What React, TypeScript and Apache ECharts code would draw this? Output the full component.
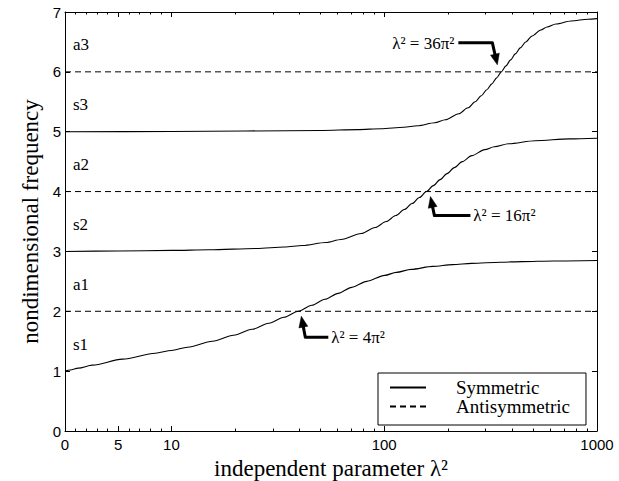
import React, { useEffect, useRef } from 'react';
import * as echarts from 'echarts';

// Symmetric mode curves: lambda^2 values and nondimensional frequency
const s1L2 = [0, 0.49, 1.25, 2.57, 5.4, 8.5, 10, 11.9, 15.6, 19.6, 23.95, 28.7, 33.8, 39.48, 45.7, 52.7, 60.8, 70.4, 82.8, 100.6, 114.0, 133.9, 169.2, 209.6, 257.7, 351.7, 445.4, 626, 1000];
const s1F = [1, 1.02, 1.05, 1.1, 1.2, 1.3, 1.345, 1.4, 1.5, 1.6, 1.7, 1.8, 1.9, 2.0, 2.1, 2.2, 2.3, 2.4, 2.5, 2.6, 2.65, 2.7, 2.75, 2.78, 2.8, 2.82, 2.83, 2.84, 2.848];

const s2L2 = [0, 5, 10, 15, 25.1, 34.0, 41.3, 53.2, 62.7, 78, 90.7, 102.3, 113.4, 124.2, 135.2, 146.3, 157.9, 170.1, 183.1, 197.4, 213.5, 232.8, 258, 297, 329.2, 384.2, 512.2, 743.4, 1000];
const s2F = [3, 3.008, 3.017, 3.027, 3.05, 3.075, 3.1, 3.15, 3.2, 3.3, 3.4, 3.5, 3.6, 3.7, 3.8, 3.9, 4.0, 4.1, 4.2, 4.3, 4.4, 4.5, 4.6, 4.7, 4.75, 4.8, 4.85, 4.88, 4.892];

const s3L2 = [0, 10, 50, 75, 96.7, 123.6, 143.6, 172.8, 193.8, 224.3, 247.6, 267.6, 285.9, 303.4, 320.6, 337.8, 355.3, 373.4, 392.5, 413, 435.8, 462.3, 495.7, 544.6, 582.3, 641.1, 755.6, 907.2, 1000];
const s3F = [5, 5.003, 5.021, 5.035, 5.05, 5.075, 5.1, 5.15, 5.2, 5.3, 5.4, 5.5, 5.6, 5.7, 5.8, 5.9, 6.0, 6.1, 6.2, 6.3, 6.4, 6.5, 6.6, 6.7, 6.75, 6.8, 6.85, 6.88, 6.89];

// Antisymmetric levels
const antiLevels = [2, 4, 6];
const antiRange = [0, 1000];

// Curve labels
const curveLabels = ['s1', 'a1', 's2', 'a2', 's3', 'a3'];
const curveLabelLevels = [1, 2, 3, 4, 5, 6];

// Crossover annotations
const crossL2 = [4 * Math.PI * Math.PI, 16 * Math.PI * Math.PI, 36 * Math.PI * Math.PI];
const crossLevels = [2, 4, 6];
const crossTexts = ['λ² = 4π²', 'λ² = 16π²', 'λ² = 36π²'];

// Axis ticks
const xMajorL2 = [0, 5, 10, 100, 1000];
const xMajorLabels = ['0', '5', '10', '100', '1000'];
const xMinorL2 = [1, 2, 3, 4, 6, 7, 8, 9, 20, 30, 40, 50, 60, 70, 80, 90, 200, 300, 400, 500, 600, 700, 800, 900];

// Hybrid axis scale: linear 0..10, logarithmic 10..1000
const toAxis = (l2: number) => (l2 <= 10 ? l2 : 10 + 20 * Math.log10(l2 / 10));

const serif = '"Liberation Serif", "Times New Roman", serif';
const sans = '"Liberation Sans", Arial, Helvetica, sans-serif';

export default function App() {
  const ref = useRef<HTMLDivElement>(null);
  useEffect(() => {
    if (!ref.current) return;
    const chart = echarts.init(ref.current, undefined, { renderer: 'svg' });
    const majorU = xMajorL2.map(toAxis);
    const minorU = xMinorL2.map(toAxis);
    const labelFor = (v: number) => {
      const i = majorU.findIndex((u) => Math.abs(u - v) < 1e-6);
      return i >= 0 ? xMajorLabels[i] : '';
    };
    const black = '#000';
    const baseX = {
      type: 'value',
      min: 0,
      max: 50,
      gridIndex: 0,
      splitLine: { show: false },
    };
    const symLine = { color: black, width: 1.1, type: 'solid' };
    const antiLine = { color: black, width: 1, type: [6, 4] };
    const symSets = [
      [s1L2, s1F],
      [s2L2, s2F],
      [s3L2, s3F],
    ];
    const series: any[] = [];
    symSets.forEach(([xs, ys]) => {
      series.push({
        name: 'Symmetric',
        type: 'line',
        xAxisIndex: 0,
        yAxisIndex: 0,
        symbol: 'none',
        smooth: 0.3,
        smoothMonotone: 'x',
        lineStyle: symLine,
        itemStyle: { color: black },
        data: xs.map((x, i) => [toAxis(x), ys[i]]),
      });
    });
    antiLevels.forEach((lv) => {
      series.push({
        name: 'Antisymmetric',
        type: 'line',
        xAxisIndex: 0,
        yAxisIndex: 0,
        symbol: 'none',
        lineStyle: antiLine,
        itemStyle: { color: black },
        data: antiRange.map((x) => [toAxis(x), lv]),
      });
    });

    // Text annotations as labels anchored at data coordinates
    const textOffsets = [
      { pos: [33, 26], align: 'left' },
      { pos: [47, 24], align: 'left' },
      { pos: [-47, -28], align: 'right' },
    ];
    const annotData: any[] = [];
    curveLabelLevels.forEach((lv, i) => {
      annotData.push({
        value: [0, lv],
        label: { formatter: curveLabels[i], position: [8, -27], align: 'left', verticalAlign: 'middle' },
      });
    });
    crossL2.forEach((l2, i) => {
      annotData.push({
        value: [toAxis(l2), crossLevels[i]],
        label: { formatter: crossTexts[i], position: textOffsets[i].pos, align: textOffsets[i].align, verticalAlign: 'middle' },
      });
    });
    series.push({
      name: 'annotations',
      type: 'scatter',
      xAxisIndex: 0,
      yAxisIndex: 0,
      symbolSize: 0.1,
      itemStyle: { color: black, opacity: 0 },
      silent: true,
      z: 10,
      label: {
        show: true,
        fontFamily: serif,
        fontSize: 17,
        color: black,
        opacity: 1,
      },
      labelLayout: { hideOverlap: false },
      data: annotData,
    });

    const option: any = {
      animation: false,
      grid: { left: 65, right: 22, top: 12, bottom: 50, outerBoundsMode: 'none' },
      legend: {
        data: ['Symmetric', 'Antisymmetric'],
        orient: 'vertical',
        left: 378,
        top: 373,
        itemWidth: 36,
        itemHeight: 14,
        itemGap: 0,
        padding: [5, 16, 9, 11],
        borderColor: black,
        borderWidth: 1,
        backgroundColor: '#fff',
        selectedMode: false,
        itemStyle: { opacity: 0 },
        textStyle: { fontFamily: serif, fontSize: 19, color: black, lineHeight: 18, padding: [0, 0, 0, 25] },
      },
      xAxis: [
        {
          ...baseX,
          position: 'bottom',
          axisLine: { show: true, onZero: false, lineStyle: { color: black, width: 1 } },
          axisTick: { show: true, inside: true, length: 5, customValues: majorU, lineStyle: { color: black } },
          axisLabel: { show: true, customValues: majorU, formatter: labelFor, color: black, fontFamily: sans, fontSize: 15, margin: 6 },
          name: 'independent parameter λ²',
          nameLocation: 'middle',
          nameGap: 21,
          nameTextStyle: { fontFamily: serif, fontSize: 23, color: black },
        },
        {
          ...baseX,
          position: 'bottom',
          axisLine: { show: false, onZero: false },
          axisTick: { show: true, inside: true, length: 2.5, customValues: minorU, lineStyle: { color: black } },
          axisLabel: { show: false },
        },
        {
          ...baseX,
          position: 'top',
          axisLine: { show: true, onZero: false, lineStyle: { color: black, width: 1 } },
          axisTick: { show: true, inside: true, length: 5, customValues: majorU, lineStyle: { color: black } },
          axisLabel: { show: false },
        },
        {
          ...baseX,
          position: 'top',
          axisLine: { show: false, onZero: false },
          axisTick: { show: true, inside: true, length: 2.5, customValues: minorU, lineStyle: { color: black } },
          axisLabel: { show: false },
        },
      ],
      yAxis: [
        {
          type: 'value',
          min: 0,
          max: 7,
          interval: 1,
          position: 'left',
          splitLine: { show: false },
          axisLine: { show: true, onZero: false, lineStyle: { color: black, width: 1 } },
          axisTick: { show: true, inside: true, length: 5, lineStyle: { color: black } },
          axisLabel: { color: black, fontFamily: sans, fontSize: 15, margin: 4 },
          name: 'nondimensional frequency',
          nameLocation: 'middle',
          nameGap: 20,
          nameTextStyle: { fontFamily: serif, fontSize: 23, color: black },
        },
        {
          type: 'value',
          min: 0,
          max: 7,
          interval: 1,
          position: 'right',
          splitLine: { show: false },
          axisLine: { show: true, onZero: false, lineStyle: { color: black, width: 1 } },
          axisTick: { show: true, inside: true, length: 5, lineStyle: { color: black } },
          axisLabel: { show: false },
        },
      ],
      series,
    };
    chart.setOption(option);

    const toPx = (u: number, v: number) =>
      chart.convertToPixel({ xAxisIndex: 0, yAxisIndex: 0 } as any, [u, v]) as number[];

    // Bent arrows to the crossover points
    const offsets = [
      { tip: [3, 5], corner: [7, 26], bar: [30, 26] },
      { tip: [4, 5], corner: [8, 24], bar: [44, 24] },
      { tip: [-4, -7], corner: [-9, -29], bar: [-43, -29] },
    ];
    const graphics: any[] = [];
    crossL2.forEach((l2, i) => {
      const p = toPx(toAxis(l2), crossLevels[i]);
      const o = offsets[i];
      const T = [p[0] + o.tip[0], p[1] + o.tip[1]];
      const C = [p[0] + o.corner[0], p[1] + o.corner[1]];
      const Bp = [p[0] + o.bar[0], p[1] + o.bar[1]];
      let dx = T[0] - C[0];
      let dy = T[1] - C[1];
      const len = Math.hypot(dx, dy);
      dx /= len;
      dy /= len;
      const L = 11;
      const W = 4.5;
      const B = [T[0] - dx * L, T[1] - dy * L];
      const n = [-dy, dx];
      graphics.push({
        type: 'polyline',
        shape: { points: [Bp, C, [B[0] + dx * 2, B[1] + dy * 2]] },
        style: { stroke: black, lineWidth: 3, fill: 'none', lineJoin: 'round' },
        z: 100,
      });
      graphics.push({
        type: 'polygon',
        shape: { points: [T, [B[0] + n[0] * W, B[1] + n[1] * W], [B[0] - n[0] * W, B[1] - n[1] * W]] },
        style: { fill: black, stroke: black, lineWidth: 0.5 },
        z: 100,
      });
    });
    chart.setOption({ graphic: graphics });

    return () => chart.dispose();
  }, []);
  return <div ref={ref} style={{ position: 'fixed', left: 0, top: 0, width: 619, height: 481, background: '#fff' }} />;
}
